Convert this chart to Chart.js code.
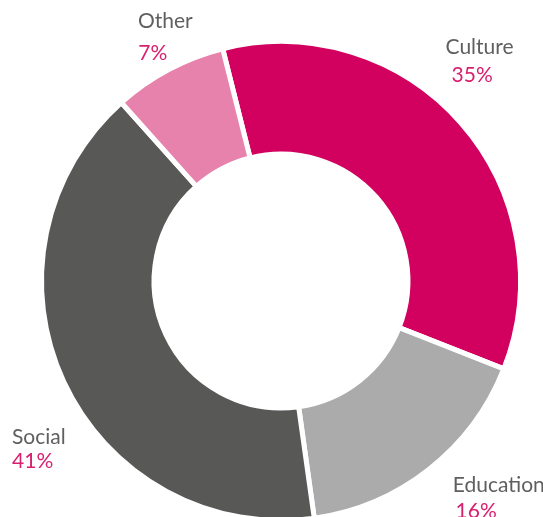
<!DOCTYPE html>
<html>
<head>
<meta charset="utf-8">
<script src="https://cdn.jsdelivr.net/npm/chart.js@4/dist/chart.umd.min.js"></script>
<style>
  html, body { margin: 0; padding: 0; background: #ffffff; overflow: hidden; }
  #wrap { position: relative; width: 543px; height: 560px; }
</style>
</head>
<body>
<div id="wrap"><canvas id="c"></canvas></div>
<script>
// ---- data ----
const categories = ['Culture', 'Education', 'Social', 'Other'];
const shares = [34.9, 16.8, 40.6, 7.7];          // share of the ring (angles)
const shareLabels = ['35%', '16%', '41%', '7%'];  // percentages as printed
const colors = ['#d2005e', '#ababab', '#585857', '#e782ad'];

// label placement relative to ring centre, in units of the outer radius
// [name x, name baseline y, pct x, pct baseline y]
const labelPlacement = [
  [0.687, -0.947, 0.712, -0.831],
  [0.717,  0.882, 0.729,  0.989],
  [-1.123, 0.680, -1.123, 0.780],
  [-0.597, -1.057, -0.596, -0.924]
];

const labelPlugin = {
  id: 'outerLabels',
  afterDraw(chart) {
    const ctx = chart.ctx;
    const meta = chart.getDatasetMeta(0);
    ctx.save();
    ctx.font = '21px Lato';
    ctx.textAlign = 'left';
    ctx.textBaseline = 'alphabetic';
    meta.data.forEach((arc, i) => {
      const p = arc.getProps(['x', 'y', 'outerRadius'], true);
      const R = p.outerRadius;
      const pl = labelPlacement[i];
      ctx.fillStyle = '#5f5f5f';
      ctx.fillText(categories[i], p.x + pl[0] * R, p.y + pl[1] * R);
      ctx.fillStyle = '#d8206f';
      ctx.fillText(shareLabels[i], p.x + pl[2] * R, p.y + pl[3] * R);
    });
    ctx.restore();
  }
};

new Chart(document.getElementById('c'), {
  type: 'doughnut',
  data: {
    labels: categories,
    datasets: [{
      data: shares,
      backgroundColor: colors,
      borderColor: '#ffffff',
      borderWidth: 5,
      hoverOffset: 0,
      hoverBorderWidth: 5
    }]
  },
  options: {
    responsive: true,
    maintainAspectRatio: false,
    animation: false,
    rotation: -14.1,
    cutout: '53%',
    layout: { padding: { left: 39, right: 20, top: 39, bottom: 37 } },
    plugins: {
      legend: { display: false },
      tooltip: { enabled: false }
    }
  },
  plugins: [labelPlugin]
});
</script>
</body>
</html>
